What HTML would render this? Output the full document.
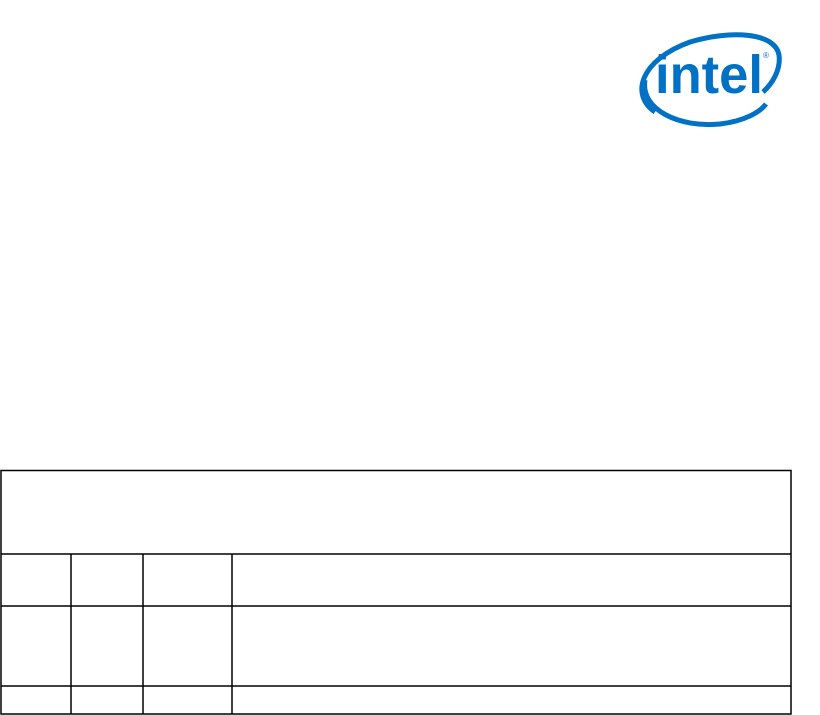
<!DOCTYPE html>
<html><head><meta charset="utf-8"><style>
html,body{margin:0;padding:0;background:#fff;width:820px;height:715px;overflow:hidden}
svg{position:absolute;left:0;top:0}
</style></head><body>
<svg width="820" height="715" viewBox="0 0 820 715">
<g fill="none" stroke="#0071c5" stroke-width="5">
<path d="M655,112 C630,95 640,60 690,42 C730,30 775,32 779,55 C781,70 772,84 763,92"/>
<path d="M645,80 C640,110 680,128 720,124 C745,121 760,112 766,104"/>
</g>
<text x="655" y="93" font-family="Liberation Sans, sans-serif" font-weight="bold" font-size="54" fill="#0071c5" textLength="108" lengthAdjust="spacingAndGlyphs">intel</text>
<text x="763" y="58" font-family="Liberation Sans, sans-serif" font-size="8" fill="#0071c5">®</text>
<g stroke="#000" stroke-width="1.5" fill="none">
<rect x="1" y="470.5" width="790" height="243.5"/>
<line x1="1" y1="554" x2="791" y2="554"/>
<line x1="1" y1="606" x2="791" y2="606"/>
<line x1="1" y1="686" x2="791" y2="686"/>
<line x1="71" y1="554" x2="71" y2="714"/>
<line x1="143" y1="554" x2="143" y2="714"/>
<line x1="232" y1="554" x2="232" y2="714"/>
</g>
</svg>
</body></html>
